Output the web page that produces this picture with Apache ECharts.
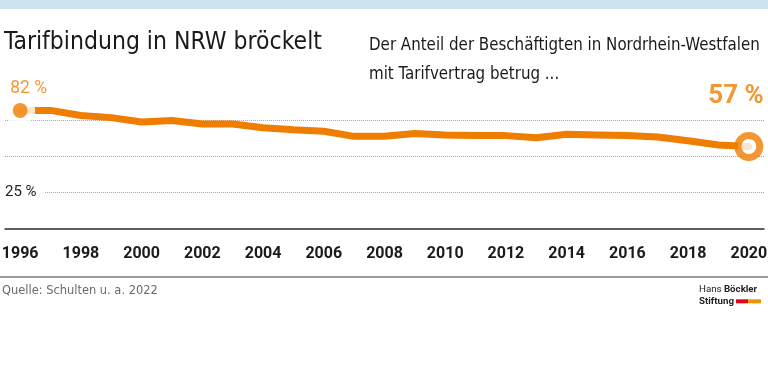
<!DOCTYPE html>
<html>
<head>
<meta charset="utf-8">
<script src="https://cdn.jsdelivr.net/npm/echarts@6/dist/echarts.min.js"></script>
<style>html,body{margin:0;padding:0;background:#fff}#c{width:768px;height:375px}</style>
</head>
<body>
<div id="c"></div>
<script>
const years = ['1996','1997','1998','1999','2000','2001','2002','2003','2004','2005','2006','2007','2008','2009','2010','2011','2012','2013','2014','2015','2016','2017','2018','2019','2020'];
const shares = [82,82,78.5,77,74,75,72.5,72.5,70,68.5,67.5,64,64,66,65,64.5,64.5,63,65.5,65,64.5,63.5,61,58,57];
const yLabelShown = [25];
const titleText = 'Tarifbindung in NRW bröckelt';
const subLines = ['Der Anteil der Beschäftigten in Nordrhein-Westfalen', 'mit Tarifvertrag betrug ...'];
const sourceText = 'Quelle: Schulten u. a. 2022';

const ORANGE = '#ef7d00';

// pick an installed condensed-ish font
const ctx = document.createElement('canvas').getContext('2d');
function has(name) {
  const probe = 'mmmmmmmmmmlliWWQ@#1996';
  for (const base of ['monospace', 'serif']) {
    ctx.font = '72px ' + base;
    const w0 = ctx.measureText(probe).width;
    ctx.font = '72px "' + name + '", ' + base;
    if (ctx.measureText(probe).width !== w0) return true;
  }
  return false;
}
const cands = ['Liberation Sans Narrow', 'Arial Narrow', 'DejaVu Sans Condensed', 'Roboto Condensed', 'Roboto'];
const NARROW = '"' + (cands.find(has) || 'Roboto') + '"';
const ROBOTO = '"Roboto", "Liberation Sans", sans-serif';
function fit(text, family, weight, target, maxSize) {
  ctx.font = (weight || 'normal') + ' 100px ' + family;
  const s = 100 * target / ctx.measureText(text).width;
  return Math.min(s, maxSize);
}
const fsTitle = fit(titleText, NARROW, 'normal', 318, 29);
const fsSub = fit(subLines[0], NARROW, 'normal', 391, 20.5);
const fsSrc = fit(sourceText, NARROW, 'normal', 156, 16);
const fsLogo = fit('Stiftung', ROBOTO, 'bold', 35, 11.5);

const first = [years[0], shares[0]];
const last = [years[years.length-1], shares[shares.length-1]];

const chart = echarts.init(document.getElementById('c'), null, {renderer:'canvas'});
chart.setOption({
  animation: false,
  grid: {left: 5, right: 4, top: 84.5, bottom: 146.5, containLabel: false, outerBoundsMode: 'none'},
  xAxis: {
    type: 'category', data: years, boundaryGap: true,
    axisLine: {lineStyle: {color: '#2b2b2b', width: 1.5}},
    axisTick: {show: false},
    axisLabel: {interval: 1, fontFamily: ROBOTO, fontWeight: 'bold', fontSize: 16, color: '#1a1a1a', margin: 17},
    splitLine: {show: false}
  },
  yAxis: {
    type: 'value', min: 0, max: 100, interval: 25, z: 3,
    axisLine: {show: false}, axisTick: {show: false},
    splitLine: {show: false},
    axisLabel: {
      inside: true, margin: 0, align: 'left', showMinLabel: false, showMaxLabel: false,
      formatter: v => yLabelShown.includes(v) ? '{w|' + v + ' %}' : '',
      rich: {w: {fontFamily: ROBOTO, fontSize: 15, color: '#222', backgroundColor: '#fff', padding: [2, 8, 2, 0]}}
    }
  },
  series: [
    {
      type: 'line', data: shares, symbol: 'none', z: 2,
      lineStyle: {color: ORANGE, width: 7, cap: 'round', join: 'round'},
      markLine: {
        silent: true, symbol: 'none', z: 1, label: {show: false},
        lineStyle: {type: 'dotted', color: '#a8a8a8', width: 1},
        data: [{yAxis: 25}, {yAxis: 50}, {yAxis: 75}]
      }
    },
    {
      type: 'scatter', z: 4, symbol: 'circle', symbolSize: 30, silent: true,
      itemStyle: {color: '#fff'},
      data: [first]
    },
    {
      type: 'scatter', z: 5, symbol: 'circle', silent: true,
      data: [
        {value: first, symbolSize: 15, itemStyle: {color: ORANGE},
          label: {show: true, position: 'top', distance: 5, align: 'left', offset: [-10, 0], formatter: p => p.value[1] + ' %',
            fontFamily: ROBOTO, fontSize: 17.5, color: ORANGE}},
        {value: last, symbolSize: 22, itemStyle: {color: '#fff', borderColor: ORANGE, borderWidth: 7},
          label: {show: true, position: 'top', distance: 22, align: 'right', offset: [15, 0], formatter: p => p.value[1] + ' %',
            fontFamily: ROBOTO, fontSize: 26, fontWeight: 'bold', color: ORANGE}}
      ]
    }
  ],
  graphic: [
    {type: 'rect', shape: {x: 0, y: 0, width: 768, height: 9}, style: {fill: '#cbe4ed'}},
    {type: 'text', x: 4, y: 43, style: {text: titleText, fontFamily: NARROW, fontSize: fsTitle, fill: '#1a1a1a', verticalAlign: 'middle'}},
    {type: 'text', x: 369, y: 46, style: {text: subLines[0], fontFamily: NARROW, fontSize: fsSub, fill: '#1a1a1a', verticalAlign: 'middle'}},
    {type: 'text', x: 369, y: 75, style: {text: subLines[1], fontFamily: NARROW, fontSize: fsSub, fill: '#1a1a1a', verticalAlign: 'middle'}},
    {type: 'line', shape: {x1: 0, y1: 277, x2: 768, y2: 277}, style: {stroke: '#9a9a9a', lineWidth: 2}},
    {type: 'text', x: 2, y: 291, style: {text: sourceText, fontFamily: NARROW, fontSize: fsSrc, fill: '#6a6a6a', verticalAlign: 'middle'}},
    {type: 'text', x: 699, y: 289.5, style: {text: 'Hans {b|Böckler}', fontFamily: ROBOTO, fontSize: fsLogo, fill: '#222', verticalAlign: 'middle',
      rich: {b: {fontFamily: ROBOTO, fontSize: fsLogo, fontWeight: 'bold', fill: '#222'}}}},
    {type: 'text', x: 699, y: 301.5, style: {text: 'Stiftung', fontFamily: ROBOTO, fontSize: fsLogo, fontWeight: 'bold', fill: '#222', verticalAlign: 'middle'}},
    {type: 'rect', shape: {x: 736, y: 299.3, width: 12.3, height: 4}, style: {fill: '#e30613'}},
    {type: 'rect', shape: {x: 748.3, y: 299.3, width: 12.7, height: 4}, style: {fill: '#f39200'}}
  ]
});
</script>
</body>
</html>
